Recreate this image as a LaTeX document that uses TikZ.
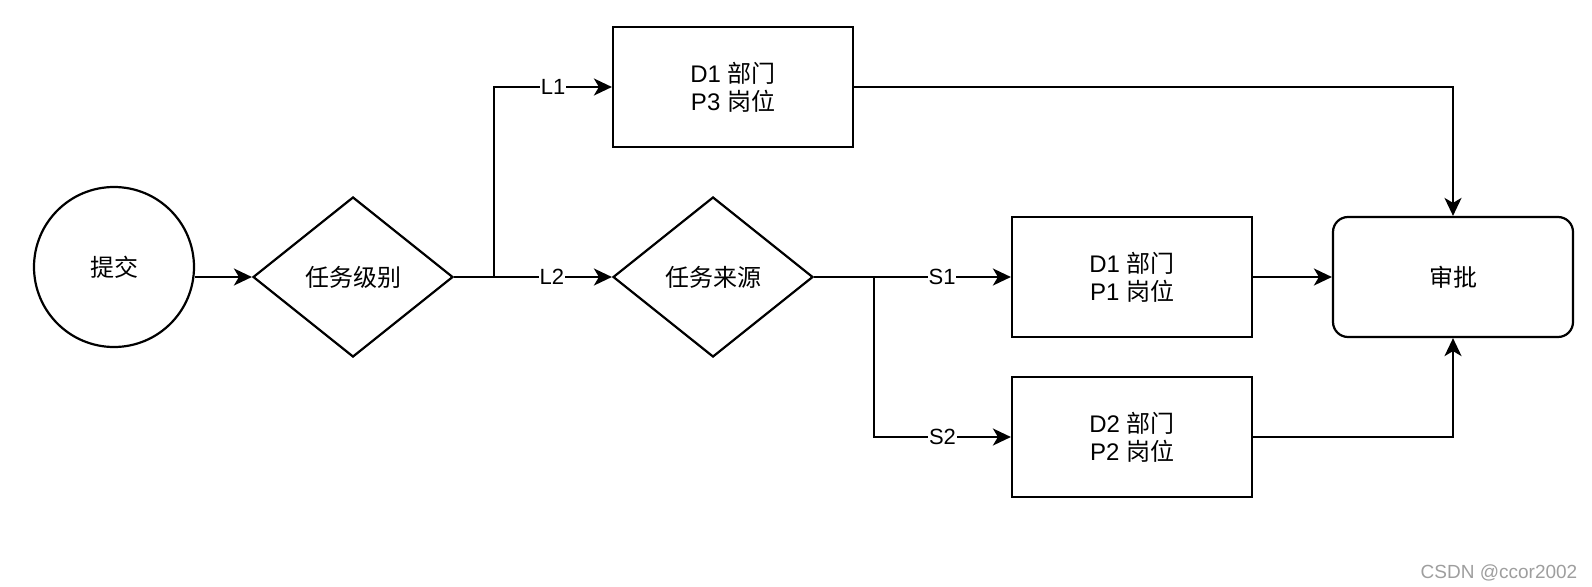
\documentclass[tikz,border=0pt]{standalone}
\usepackage{fontspec}
\setmainfont{Liberation Sans}
\newfontfamily\cjkfont{Noto Sans CJK SC}
\newcommand{\zh}[1]{{\cjkfont #1}}
\usetikzlibrary{shapes.geometric,arrows.meta,positioning,calc}

\begin{document}
\begin{tikzpicture}[x=1pt,y=-1pt,line width=2.2pt,
    every node/.style={font=\fontsize{24}{28}\selectfont, align=center},
    startnode/.style={draw, circle, minimum size=160pt, inner sep=0pt},
    decision/.style={draw, diamond, minimum width=200pt, minimum height=160pt, inner sep=0pt},
    post/.style={draw, rectangle, minimum width=240pt, minimum height=120pt, inner sep=0pt},
    endnode/.style={draw, rectangle, rounded corners=15pt, minimum width=240pt, minimum height=120pt, inner sep=0pt},
    flow/.style={-{Stealth[length=18pt,width=17pt,inset=5pt]}},
    tag/.style={fill=white, inner sep=1pt, font=\fontsize{22}{26}\selectfont}]
    \useasboundingbox (0,0) rectangle (1592,586);

    % start and the two decisions
    \node[startnode] (submit) at (114,267) {\zh{提交}};
    \node[decision] (level) at (353,277) {\zh{任务级别}};
    \node[decision] (source) at (713,277) {\zh{任务来源}};

    % posts
    \node[post] (p3) at (733,87) {D1 \zh{部门}\\P3 \zh{岗位}};
    \node[post] (p1) at (1132,277) {D1 \zh{部门}\\P1 \zh{岗位}};
    \node[post] (p2) at (1132,437) {D2 \zh{部门}\\P2 \zh{岗位}};

    % approval
    \node[endnode] (approve) at (1453,277) {\zh{审批}};

    % connectors
    \draw[flow] (submit.east |- level.west) -- (level.west);
    \draw[flow] (level.east) -- ++(40,0) |- node[tag, pos=0.75] {L1} (p3.west);
    \draw[flow] (level.east) -- node[tag, pos=0.62] {L2} (source.west);
    \draw[flow] (source.east) -- node[tag, pos=0.65] {S1} (p1.west);
    \draw[flow] (source.east) -- ++(60,0) |- node[tag, pos=0.75] {S2} (p2.west);
    \draw[flow] (p3.east) -| (approve.north);
    \draw[flow] (p1.east) -- (approve.west);
    \draw[flow] (p2.east) -| (approve.south);

    % watermark
    \node[anchor=base, text=black!38, font=\fontsize{19}{22}\selectfont] (mark) at (1499,578) {CSDN @ccor2002};
\end{tikzpicture}
\end{document}
